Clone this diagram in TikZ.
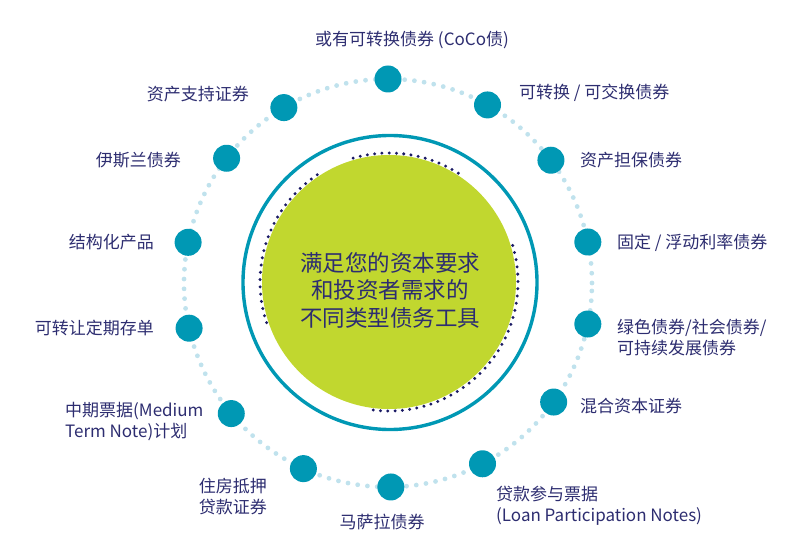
\documentclass[tikz,border=0pt]{standalone}
\usepackage{fontspec}
\setmainfont{Noto Sans CJK SC}
\definecolor{ink}{RGB}{45,45,112}
\definecolor{dotblue}{RGB}{0,152,180}
\definecolor{ringblue}{RGB}{192,226,237}
\definecolor{lime}{RGB}{193,215,47}
\definecolor{navy}{RGB}{26,26,100}
\tikzset{
  dot/.style={circle,fill=dotblue,minimum size=27pt,inner sep=0pt},
  lbl/.style={text=ink,inner sep=0pt,align=left,font=\fontsize{17}{21}\selectfont},
  navydots/.style={navy,line width=3.3pt,line cap=round,dash pattern=on 0pt off 7.3pt}
}
\begin{document}
\begin{tikzpicture}[x=1pt,y=1pt]
      \useasboundingbox (0,0) rectangle (808,558);
      \draw[ringblue,line width=4.8pt,line cap=round,dash pattern=on 0pt off 9.8pt] (388,275) circle (204);
      \draw[dotblue,line width=3.4pt] (390,275.5) circle (147);
      \fill[lime] (389,276) circle (127);
      \begin{scope}[shift={(389,276)}]
        \draw[navydots] (57.5:129) arc[start angle=57.5,end angle=108.7,radius=129];
        \draw[navydots] (123.8:129) arc[start angle=123.8,end angle=200.7,radius=129];
        \draw[navydots] (-97:129) arc[start angle=-97,end angle=18.7,radius=129];
      \end{scope}
      \node[text=ink,inner sep=0pt,align=center,font=\fontsize{22.5}{27.5}\selectfont] (core) at (390,268)
        {满足您的资本要求\\和投资者需求的\\不同类型债务工具};
      \begin{scope}[shift={(388,275)}]
        \foreach \a/\n in {90/d1,60.8/d2,37/d3,11.6/d4,-11.6/d5,-35.7/d6,-62.4/d7,
                           -89.2/d8,-114.5/d9,-140.2/d10,-167.2/d11,168.5/d12,142.3/d13,120.7/d14}
          \node[dot] (\n) at (\a:204) {};
      \end{scope}
      \node[lbl] (t1) at (412,518) {或有可转换债券 (CoCo债)};
      \node[lbl,anchor=west] (t2) at (519,465) {可转换 / 可交换债券};
      \node[lbl,anchor=west] (t3) at (580,398) {资产担保债券};
      \node[lbl,anchor=west] (t4) at (617,315) {固定 / 浮动利率债券};
      \node[lbl,anchor=west] (t5) at (617,220) {绿色债券/社会债券/\\可持续发展债券};
      \node[lbl,anchor=west] (t6) at (580,152) {混合资本证券};
      \node[lbl,anchor=west] (t7) at (496,52.5) {贷款参与票据\\(Loan Participation Notes)};
      \node[lbl] (t8) at (382,36) {马萨拉债券};
      \node[lbl,anchor=east] (t9) at (267,61.5) {住房抵押\\贷款证券};
      \node[lbl,anchor=west] (t10) at (65,136) {中期票据(Medium\\Term Note)计划};
      \node[lbl,anchor=east] (t11) at (154,230) {可转让定期存单};
      \node[lbl,anchor=east] (t12) at (154,316) {结构化产品};
      \node[lbl,anchor=east] (t13) at (181,398) {伊斯兰债券};
      \node[lbl,anchor=east] (t14) at (249,464) {资产支持证券};
    \end{tikzpicture}
\end{document}
